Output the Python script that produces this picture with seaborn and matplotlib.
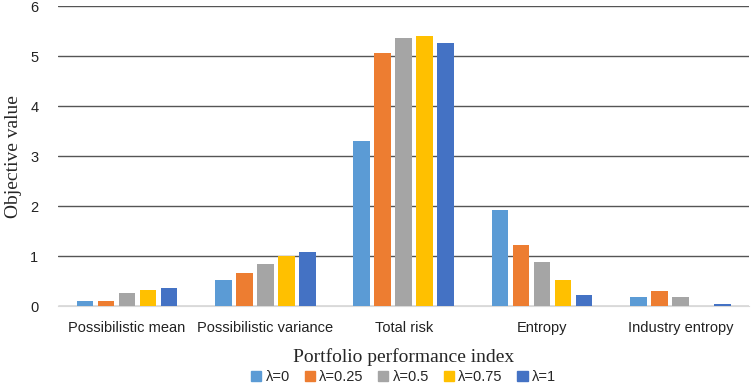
import pandas as pd
import seaborn as sns
import matplotlib.pyplot as plt

# ---------------- data ----------------
categories = ["Possibilistic mean", "Possibilistic variance", "Total risk",
              "Entropy", "Industry entropy"]
lambdas = ["λ=0", "λ=0.25", "λ=0.5", "λ=0.75", "λ=1"]

vals_l0 = [0.10, 0.52, 3.31, 1.93, 0.19]
vals_l025 = [0.11, 0.67, 5.07, 1.23, 0.31]
vals_l05 = [0.27, 0.85, 5.37, 0.88, 0.19]
vals_l075 = [0.33, 1.00, 5.41, 0.53, 0.00]
vals_l1 = [0.37, 1.09, 5.27, 0.23, 0.04]

colors = ["#5B9BD5", "#ED7D31", "#A5A5A5", "#FFC000", "#4472C4"]

rows = []
for lam, vals in zip(lambdas, [vals_l0, vals_l025, vals_l05, vals_l075, vals_l1]):
    for cat, v in zip(categories, vals):
        rows.append({"index": cat, "lambda": lam, "value": v})
df = pd.DataFrame(rows)

# ---------------- plot ----------------
sns.set_style("white")
plt.rcParams["font.family"] = ["Liberation Sans", "DejaVu Sans"]

fig = plt.figure(figsize=(7.51, 3.85), dpi=100)
ax = fig.add_axes([0.077, 0.205, 0.921, 0.779])

sns.barplot(data=df, x="index", y="value", hue="lambda",
            order=categories, hue_order=lambdas, palette=colors,
            saturation=1, width=0.76, linewidth=0,
            errorbar=None, ax=ax, zorder=3)

# narrow each bar a bit so there is a visible gap between neighbours
for p in ax.patches:
    w = p.get_width()
    p.set_x(p.get_x() + w * 0.1)
    p.set_width(w * 0.8)

ax.set_ylim(0, 6)
ax.set_yticks(range(0, 7))
ax.set_xlim(-0.5, len(categories) - 0.5)
ax.yaxis.grid(True, color="#555555", linewidth=1.0, zorder=0)
ax.set_axisbelow(True)
for s in ["top", "right", "left"]:
    ax.spines[s].set_visible(False)
ax.spines["bottom"].set_color("#d9d9d9")
ax.tick_params(axis="both", length=0, labelsize=10.5, colors="#222222")
ax.tick_params(axis="x", pad=11)
ax.tick_params(axis="y", pad=14)

ax.set_xlabel("Portfolio performance index", family="Liberation Serif",
              fontsize=14, labelpad=9)
ax.set_ylabel("Objective value", family="Liberation Serif", fontsize=14,
              labelpad=6)

ax.legend_.remove()
handles = [plt.Rectangle((0, 0), 1, 1, color=c) for c in colors]
ax.legend(handles, lambdas, loc="lower center", bbox_to_anchor=(0.5, -0.305),
          ncol=5, frameon=False, fontsize=10.5, handlelength=0.7,
          handleheight=0.7, handletextpad=0.3, columnspacing=1.0)

fig.savefig("out.png", dpi=100)
